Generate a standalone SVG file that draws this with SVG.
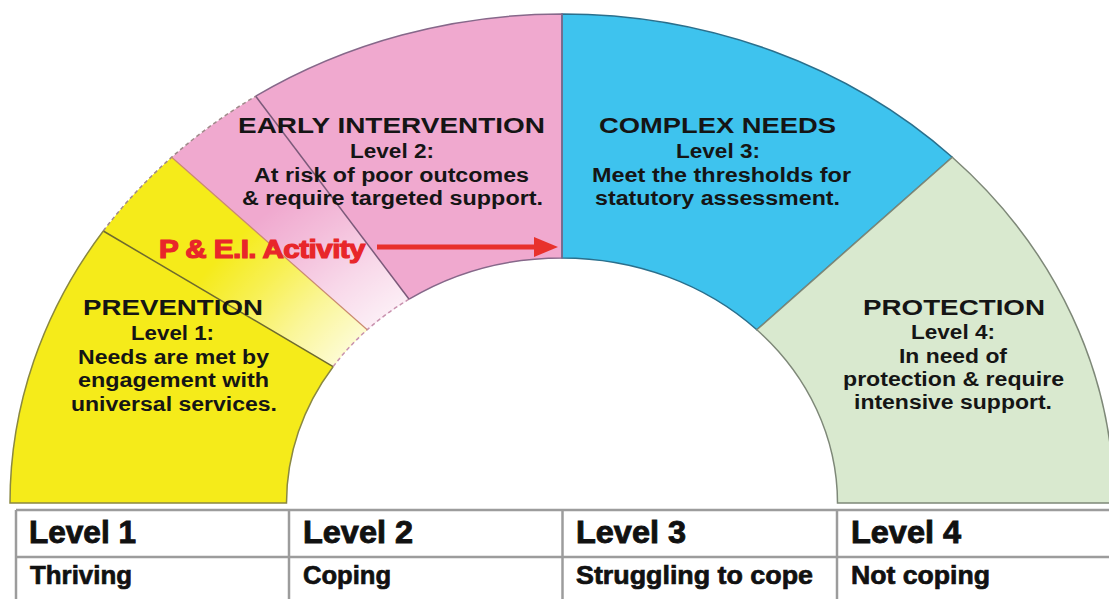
<svg xmlns="http://www.w3.org/2000/svg" width="1109" height="599" viewBox="0 0 1109 599">
<style>
.t{font-family:"Liberation Sans",Arial,sans-serif;font-weight:bold;fill:#151515;}
.ttl{font-size:22.5px;}
.bd{font-size:19.5px;}
.tb1{font-family:"Liberation Sans",Arial,sans-serif;font-weight:bold;font-size:31px;fill:#111;stroke:#111;stroke-width:0.9px;}
.tb2{font-family:"Liberation Sans",Arial,sans-serif;font-weight:bold;font-size:26.5px;fill:#111;stroke:#111;stroke-width:0.7px;}
.grid{stroke:#9c9c9c;stroke-width:2.5;fill:none;}
.edge{fill:none;stroke-width:1.5;}
.dash{fill:none;stroke-width:1.5;stroke-dasharray:4 3;}
</style>
<defs>
<radialGradient id="fade" gradientUnits="userSpaceOnUse" cx="562" cy="503" r="552" gradientTransform="translate(0 503) scale(1 0.8859) translate(0 -503)">
<stop offset="0.5" stop-color="#ffffff" stop-opacity="0.8"/>
<stop offset="0.6" stop-color="#ffffff" stop-opacity="0.55"/>
<stop offset="0.7" stop-color="#ffffff" stop-opacity="0.25"/>
<stop offset="0.8" stop-color="#ffffff" stop-opacity="0"/>
</radialGradient>
</defs>
<rect x="0" y="0" width="1109" height="599" fill="#ffffff"/>

<g id="prevention">
<path d="M 10 503 A 552 489 0 0 1 171.7 157.2 L 367.2 329.8 A 275.5 245 0 0 0 286.5 503 Z" fill="#f5eb1a"/>
</g>
<g id="early-intervention">
<path d="M 171.7 157.2 A 552 489 0 0 1 562 14 L 562 258 A 275.5 245 0 0 0 367.2 329.8 Z" fill="#f0a9cf"/>
</g>
<g id="complex-needs">
<path d="M 562 14 A 552 489 0 0 1 952.3 157.2 L 756.8 329.8 A 275.5 245 0 0 0 562 258 Z" fill="#3ec3ee" stroke="#2a6f8c" stroke-width="1.5"/>
<text class="t ttl" x="599" y="133" textLength="237" lengthAdjust="spacingAndGlyphs">COMPLEX NEEDS</text>
<text class="t bd" x="676" y="158" textLength="84" lengthAdjust="spacingAndGlyphs">Level 3:</text>
<text class="t bd" x="592" y="182" textLength="259" lengthAdjust="spacingAndGlyphs">Meet the thresholds for</text>
<text class="t bd" x="595" y="205" textLength="245" lengthAdjust="spacingAndGlyphs">statutory assessment.</text>
</g>
<g id="protection">
<path d="M 952.3 157.2 A 552 489 0 0 1 1114 503 L 837.5 503 A 275.5 245 0 0 0 756.8 329.8 Z" fill="#d9e9cf" stroke="#7e8878" stroke-width="1.5"/>
<text class="t ttl" x="863" y="315" textLength="182" lengthAdjust="spacingAndGlyphs">PROTECTION</text>
<text class="t bd" x="911" y="339" textLength="84" lengthAdjust="spacingAndGlyphs">Level 4:</text>
<text class="t bd" x="899" y="363" textLength="108" lengthAdjust="spacingAndGlyphs">In need of</text>
<text class="t bd" x="843" y="386" textLength="221" lengthAdjust="spacingAndGlyphs">protection &amp; require</text>
<text class="t bd" x="854" y="409" textLength="198" lengthAdjust="spacingAndGlyphs">intensive support.</text>
</g>

<g id="pei-activity">
<path d="M 103.3 231 A 552 489 0 0 1 255.7 96.2 L 409.1 299.2 A 275.5 245 0 0 0 333.1 366.7 Z" fill="url(#fade)"/>
<path class="dash" d="M 103.3 231 A 552 489 0 0 1 255.7 96.2" stroke="#a08a8a"/>
<path class="dash" d="M 409.1 299.2 A 275.5 245 0 0 0 333.1 366.7" stroke="#c892ae"/>
<line x1="171.7" y1="157.2" x2="367.2" y2="329.8" stroke="#c98a6e" stroke-width="1.2"/>
<line x1="103.3" y1="231" x2="333.1" y2="366.7" stroke="#6e6a2e" stroke-width="1.5"/>
<line x1="255.7" y1="96.2" x2="409.1" y2="299.2" stroke="#7c5a7a" stroke-width="1.5"/>
</g>

<g id="outlines">
<path class="edge" d="M 103.3 231 A 552 489 0 0 0 10 503 L 286.5 503 A 275.5 245 0 0 1 333.1 366.7" stroke="#8a8840"/>
<path class="edge" d="M 255.7 96.2 A 552 489 0 0 1 562 14 L 562 258 A 275.5 245 0 0 0 409.1 299.2" stroke="#86688a"/>
</g>

<g id="prevention-label">
<text class="t ttl" x="83" y="315" textLength="180" lengthAdjust="spacingAndGlyphs">PREVENTION</text>
<text class="t bd" x="131" y="340" textLength="83" lengthAdjust="spacingAndGlyphs">Level 1:</text>
<text class="t bd" x="78" y="364" textLength="191" lengthAdjust="spacingAndGlyphs">Needs are met by</text>
<text class="t bd" x="78" y="387" textLength="191" lengthAdjust="spacingAndGlyphs">engagement with</text>
<text class="t bd" x="71" y="411" textLength="206" lengthAdjust="spacingAndGlyphs">universal services.</text>
</g>
<g id="early-intervention-label">
<text class="t ttl" x="238" y="133" textLength="307" lengthAdjust="spacingAndGlyphs">EARLY INTERVENTION</text>
<text class="t bd" x="350" y="158" textLength="84" lengthAdjust="spacingAndGlyphs">Level 2:</text>
<text class="t bd" x="254" y="182" textLength="275" lengthAdjust="spacingAndGlyphs">At risk of poor outcomes</text>
<text class="t bd" x="242" y="205" textLength="301" lengthAdjust="spacingAndGlyphs">&amp; require targeted support.</text>
</g>
<g id="pei-label">
<text x="159" y="258" textLength="206" lengthAdjust="spacingAndGlyphs" font-family="'Liberation Sans',Arial,sans-serif" font-weight="bold" font-size="26" fill="#e8262a" stroke="#e8262a" stroke-width="1.2" letter-spacing="-0.5">P &amp; E.I. Activity</text>
</g>

<g id="connectors">
<line x1="377" y1="247" x2="537" y2="247" stroke="#e8312c" stroke-width="5"/>
<polygon points="534,237 558,247 534,257" fill="#e8312c"/>
</g>

<g id="table">
<line class="grid" x1="16" y1="510" x2="1109" y2="510" stroke-width="3"/>
<line class="grid" x1="16" y1="557" x2="1109" y2="557"/>
<line class="grid" x1="16" y1="510" x2="16" y2="599"/>
<line class="grid" x1="289" y1="510" x2="289" y2="599"/>
<line class="grid" x1="562.5" y1="510" x2="562.5" y2="599"/>
<line class="grid" x1="837" y1="510" x2="837" y2="599"/>
</g>
<g id="cell-level-1">
<text class="tb1" x="29" y="543" textLength="107" lengthAdjust="spacingAndGlyphs">Level 1</text>
<text class="tb2" x="30" y="584" textLength="102" lengthAdjust="spacingAndGlyphs">Thriving</text>
</g>
<g id="cell-level-2">
<text class="tb1" x="303" y="543" textLength="110" lengthAdjust="spacingAndGlyphs">Level 2</text>
<text class="tb2" x="303" y="584" textLength="88" lengthAdjust="spacingAndGlyphs">Coping</text>
</g>
<g id="cell-level-3">
<text class="tb1" x="576" y="543" textLength="110" lengthAdjust="spacingAndGlyphs">Level 3</text>
<text class="tb2" x="576" y="584" textLength="237" lengthAdjust="spacingAndGlyphs">Struggling to cope</text>
</g>
<g id="cell-level-4">
<text class="tb1" x="851" y="543" textLength="110" lengthAdjust="spacingAndGlyphs">Level 4</text>
<text class="tb2" x="851" y="584" textLength="139" lengthAdjust="spacingAndGlyphs">Not coping</text>
</g>
</svg>
